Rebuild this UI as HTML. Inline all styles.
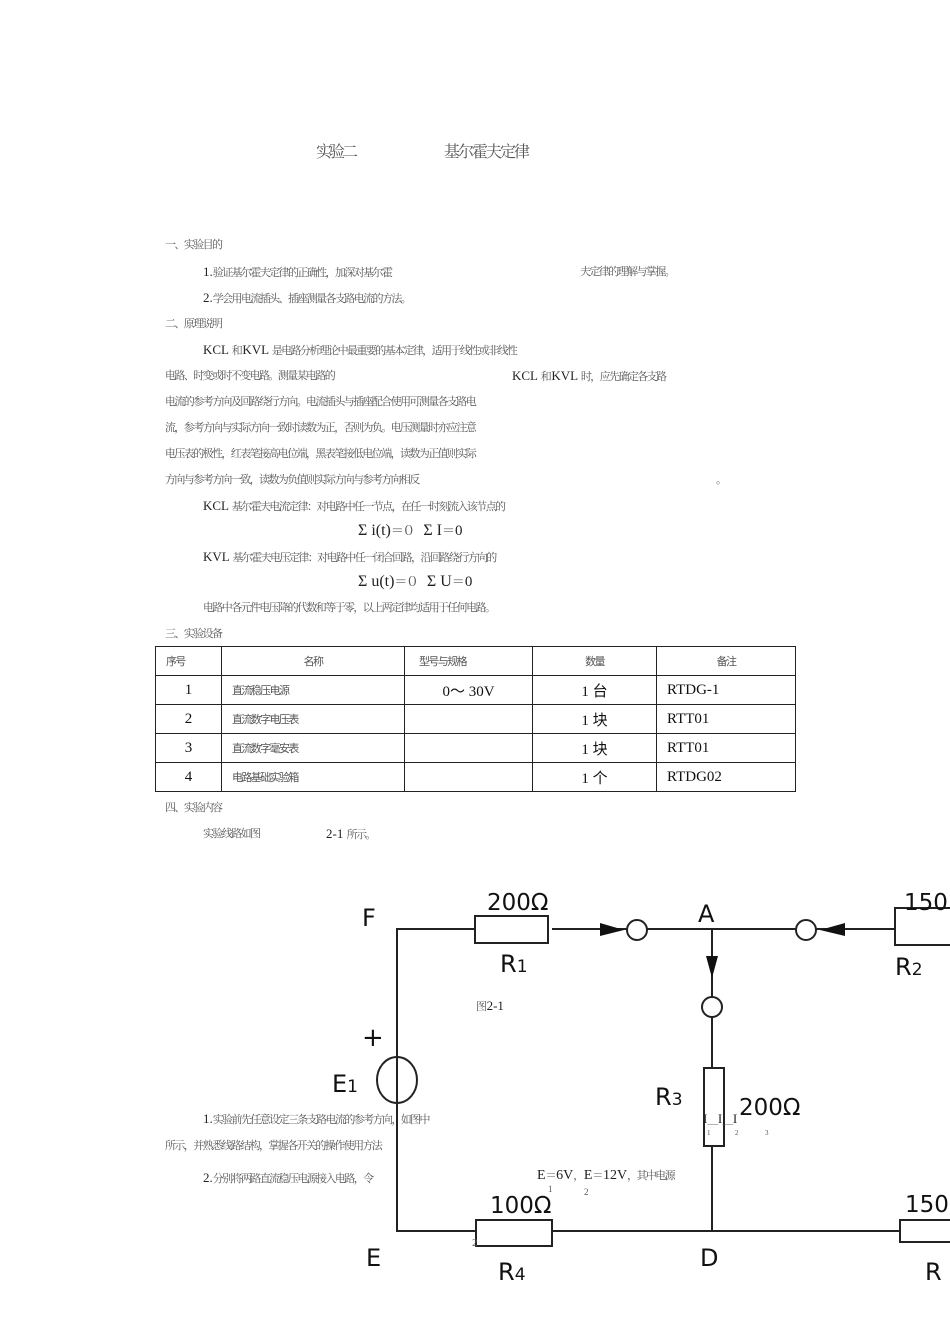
<!DOCTYPE html>
<html><head><meta charset="utf-8"><style>
body{margin:0;background:#fff;}
#p{position:relative;width:950px;height:1342px;overflow:hidden;background:#fff;font-family:"Liberation Serif","Noto Serif CJK SC",serif;color:#333;}
.t{position:absolute;white-space:pre;font-size:11px;line-height:12px;color:#555;letter-spacing:-1.6px;}
.l{font-family:"Liberation Serif",serif;font-size:13px;color:#222;letter-spacing:0;}
table{position:absolute;left:155px;top:646px;border-collapse:collapse;}
td{border:1px solid #222;height:28px;padding:0;font-size:15px;font-family:"Liberation Serif",serif;color:#111;}
svg{position:absolute;left:0;top:0;}
.d{font-family:"DejaVu Sans",sans-serif;fill:#111;}
</style></head><body><div id="p">
<div class="t" style="left:316px;top:143px;font-size:16px;line-height:20px;letter-spacing:-3px">实验二</div>
<div class="t" style="left:444px;top:143px;font-size:16px;line-height:20px;letter-spacing:-2px">基尔霍夫定律</div>

<div class="t" style="left:165px;top:239px">一、实验目的</div>
<div class="t" style="left:203px;top:266px"><span class="l">1.</span>验证基尔霍夫定律的正确性，加深对基尔霍</div>
<div class="t" style="left:580px;top:266px">夫定律的理解与掌握。</div>
<div class="t" style="left:203px;top:292px"><span class="l">2.</span>学会用电流插头、插座测量各支路电流的方法。</div>
<div class="t" style="left:165px;top:318px">二、原理说明</div>
<div class="t" style="left:203px;top:344px"><span class="l">KCL </span>和 <span class="l">KVL </span>是电路分析理论中最重要的基本定律，适用于线性或非线性</div>
<div class="t" style="left:165px;top:370px">电路、时变或时不变电路。测量某电路的</div>
<div class="t" style="left:512px;top:370px"><span class="l">KCL </span>和 <span class="l">KVL </span>时，应先确定各支路</div>
<div class="t" style="left:165px;top:396px">电流的参考方向及回路绕行方向。电流插头与插座配合使用可测量各支路电</div>
<div class="t" style="left:165px;top:422px">流，参考方向与实际方向一致时读数为正，否则为负。电压测量时亦应注意</div>
<div class="t" style="left:165px;top:448px">电压表的极性，红表笔接高电位端，黑表笔接低电位端，读数为正值则实际</div>
<div class="t" style="left:165px;top:474px">方向与参考方向一致，读数为负值则实际方向与参考方向相反</div>
<div class="t" style="left:716px;top:474px">。</div>
<div class="t" style="left:203px;top:500px"><span class="l">KCL </span>基尔霍夫电流定律：对电路中任一节点，在任一时刻流入该节点的</div>
<div class="t" style="left:358px;top:525px;font-size:13px"><span class="l" style="font-size:16px">Σ i(t)</span>＝０ <span class="l" style="font-size:16px">  Σ I</span>＝ <span class="l" style="font-size:15px">0</span></div>
<div class="t" style="left:203px;top:551px"><span class="l">KVL </span>基尔霍夫电压定律：对电路中任一闭合回路，沿回路绕行方向的</div>
<div class="t" style="left:358px;top:576px;font-size:13px"><span class="l" style="font-size:16px">Σ u(t)</span>＝０ <span class="l" style="font-size:16px">  Σ U</span>＝ <span class="l" style="font-size:15px">0</span></div>
<div class="t" style="left:203px;top:602px">电路中各元件电压降的代数和等于零，以上两定律均适用于任何电路。</div>
<div class="t" style="left:165px;top:628px">三、实验设备</div>

<table>
<tr><td style="width:65px"><span class="t" style="position:static;padding-left:10px">序号</span></td><td style="width:182px;text-align:center"><span class="t" style="position:static">名称</span></td><td style="width:127px"><span class="t" style="position:static;padding-left:14px">型号与规格</span></td><td style="width:123px;text-align:center"><span class="t" style="position:static">数量</span></td><td style="width:138px;text-align:center"><span class="t" style="position:static">备注</span></td></tr>
<tr><td style="text-align:center">1</td><td><span class="t" style="position:static;padding-left:10px">直流稳压电源</span></td><td style="text-align:center">0～ 30V</td><td style="text-align:center">1 台</td><td style="padding-left:10px">RTDG-1</td></tr>
<tr><td style="text-align:center">2</td><td><span class="t" style="position:static;padding-left:10px">直流数字电压表</span></td><td></td><td style="text-align:center">1 块</td><td style="padding-left:10px">RTT01</td></tr>
<tr><td style="text-align:center">3</td><td><span class="t" style="position:static;padding-left:10px">直流数字毫安表</span></td><td></td><td style="text-align:center">1 块</td><td style="padding-left:10px">RTT01</td></tr>
<tr><td style="text-align:center">4</td><td><span class="t" style="position:static;padding-left:10px">电路基础实验箱</span></td><td></td><td style="text-align:center">1 个</td><td style="padding-left:10px">RTDG02</td></tr>
</table>
<div class="t" style="left:165px;top:802px">四、实验内容</div>
<div class="t" style="left:203px;top:828px">实验线路如图</div>
<div class="t" style="left:326px;top:828px"><span class="l">2-1 </span>所示。</div>

<svg width="950" height="1342" viewBox="0 0 950 1342">
<g stroke="#222" stroke-width="2" fill="none">
<polyline points="475,929 397,929 397,1231 476,1231"/>
<line x1="552" y1="929" x2="628" y2="929"/>
<line x1="647" y1="929" x2="797" y2="929"/>
<line x1="816" y1="929" x2="895" y2="929"/>
<line x1="712" y1="929" x2="712" y2="997"/>
<line x1="712" y1="1017" x2="712" y2="1068"/>
<line x1="712" y1="1146" x2="712" y2="1231"/>
<line x1="552" y1="1231" x2="900" y2="1231"/>
<rect x="475" y="916" width="73" height="27"/>
<rect x="895" y="908" width="60" height="37"/>
<rect x="476" y="1220" width="76" height="26"/>
<rect x="900" y="1220" width="55" height="22"/>
<rect x="704" y="1068" width="20" height="78"/>
<circle cx="637" cy="930" r="10"/>
<circle cx="806" cy="930" r="10"/>
<circle cx="712" cy="1007" r="10"/>
<ellipse cx="397" cy="1080" rx="20" ry="23"/>
</g>
<g fill="#111">
<polygon points="600,923 600,936 624,930"/>
<polygon points="845,923 845,936 820,930"/>
<polygon points="706,956 718,956 712,978"/>
</g>
<g class="d" font-size="24">
<text x="362" y="926">F</text>
<text x="698" y="922">A</text>
<text x="366" y="1266">E</text>
<text x="700" y="1266">D</text>
<text x="487" y="910" font-size="23">200Ω</text>
<text x="904" y="910" font-size="23">150</text>
<text x="490" y="1213" font-size="23">100Ω</text>
<text x="905" y="1212" font-size="23">150</text>
<text x="739" y="1115" font-size="23">200Ω</text>
<text x="500" y="972">R<tspan font-size="17">1</tspan></text>
<text x="895" y="975">R<tspan font-size="17">2</tspan></text>
<text x="655" y="1105">R<tspan font-size="17">3</tspan></text>
<text x="498" y="1280">R<tspan font-size="17">4</tspan></text>
<text x="925" y="1280">R</text>
<text x="332" y="1092">E<tspan font-size="17">1</tspan></text>
<text x="362" y="1046" font-size="26">+</text>
</g>
</svg>
<div class="t" style="left:476px;top:1000px"><span>图</span> <span class="l">2-1</span></div>
<div class="t" style="left:203px;top:1113px"><span class="l">1.</span>实验前先任意设定三条支路电流的参考方向，如图中</div>
<div class="t" style="left:703px;top:1113px"><span class="l">I</span>＿ <span class="l">I</span>＿ <span class="l">I</span></div>
<div class="t" style="left:707px;top:1127px;font-size:7px">1</div>
<div class="t" style="left:735px;top:1127px;font-size:7px">2</div>
<div class="t" style="left:765px;top:1127px;font-size:7px">3</div>
<div class="t" style="left:165px;top:1140px">所示，并熟悉线路结构，掌握各开关的操作使用方法</div>
<div class="t" style="left:203px;top:1172px"><span class="l">2.</span>分别将两路直流稳压电源接入电路，令</div>
<div class="t" style="left:537px;top:1170px"><span class="l" style="font-size:14px">E</span>＝ <span class="l" style="font-size:14px">6V</span>， <span class="l" style="font-size:14px">E</span>＝ <span class="l" style="font-size:14px">12V</span>，其中电源</div>
<div class="t" style="left:548px;top:1183px;font-size:9px">1</div>
<div class="t" style="left:584px;top:1186px;font-size:9px">2</div>
<div class="t" style="left:472px;top:1237px;font-size:11px">2</div>
</div></body></html>
